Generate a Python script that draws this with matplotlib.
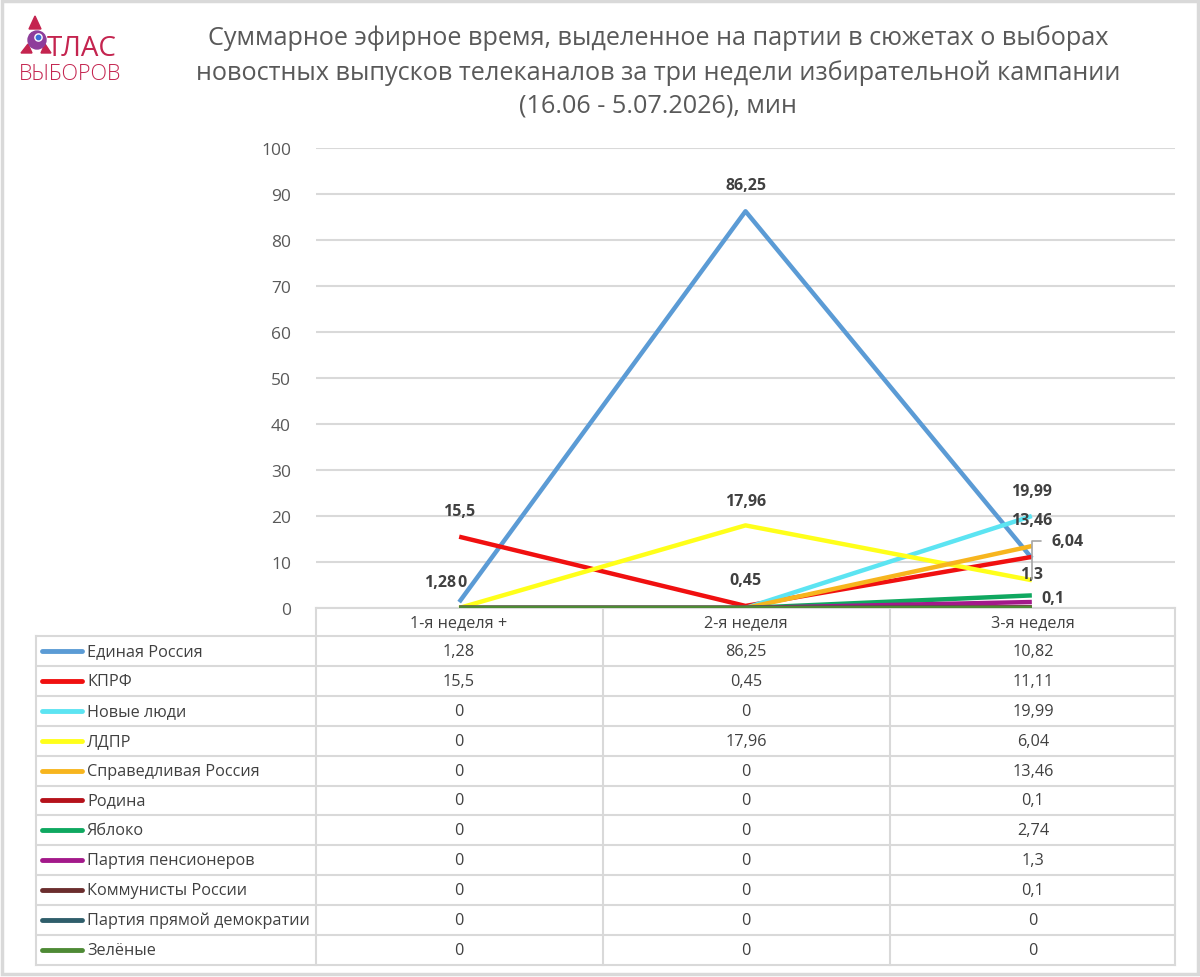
import matplotlib
matplotlib.use("Agg")
import matplotlib.pyplot as plt
from matplotlib.patches import Rectangle, Polygon, Circle

plt.rcParams['font.family'] = ['Open Sans', 'DejaVu Sans']

weeks = ["1-я неделя +", "2-я неделя", "3-я неделя"]
parties = ["Единая Россия", "КПРФ", "Новые люди", "ЛДПР", "Справедливая Россия",
           "Родина", "Яблоко", "Партия пенсионеров", "Коммунисты России",
           "Партия прямой демократии", "Зелёные"]
values = [
    [1.28, 86.25, 10.82],
    [15.5, 0.45, 11.11],
    [0, 0, 19.99],
    [0, 17.96, 6.04],
    [0, 0, 13.46],
    [0, 0, 0.1],
    [0, 0, 2.74],
    [0, 0, 1.3],
    [0, 0, 0.1],
    [0, 0, 0],
    [0, 0, 0],
]
colors = ["#5B9BD5", "#F01010", "#5CE4F2", "#FFFF1A", "#F7B51E", "#B5121B",
          "#0FA860", "#A3198A", "#6B2E2E", "#2F5E6B", "#4E8A35"]

title = ("Суммарное эфирное время, выделенное на партии в сюжетах о выборах\n"
         "новостных выпусков телеканалов за три недели избирательной кампании\n"
         "(16.06 - 5.07.2026), мин")

# data labels: (series, week, dx px, dy px)
labels = [
    (0, 0, -19, 20), (3, 0, 3, 26), (1, 0, 0, 26),
    (0, 1, 0, 26), (3, 1, 0, 24), (1, 1, 0, 26),
    (2, 2, 0, 25), (4, 2, 0, 26), (7, 2, 0, 28), (5, 2, 21, 10),
]

def fmt(v):
    return ("%g" % v).replace(".", ",")

W, H = 1200, 978
fig = plt.figure(figsize=(12, 9.78), dpi=100)

# background / frame / table layer in pixel coordinates
bg = fig.add_axes([0, 0, 1, 1])
bg.set_xlim(0, W)
bg.set_ylim(H, 0)
bg.axis("off")
bg.add_patch(Rectangle((2, 2), W - 4, H - 5, fill=False, ec="#D9D9D9", lw=2.5))

ax = fig.add_axes([316 / W, 1 - 609 / H, (1175 - 316) / W, (609 - 149) / H])
ax.set_xlim(-0.5, 2.5)
ax.set_ylim(0, 100)
ax.set_yticks(range(0, 101, 10))
ax.set_xticks([])
ax.grid(axis="y", color="#D9D9D9", lw=1.5)
ax.set_axisbelow(True)
for s in ax.spines.values():
    s.set_visible(False)
ax.tick_params(axis="y", length=0, pad=18, labelsize=12.5, labelcolor="#595959")
ax.patch.set_alpha(0)

x = list(range(len(weeks)))
for i, (vals, c) in enumerate(zip(values, colors)):
    ax.plot(x, vals, color=c, lw=3.2, solid_capstyle="butt", zorder=3 + i * 0.01)

pt = 0.72
for si, wi, dx, dy in labels:
    ax.annotate(fmt(values[si][wi]), (wi, values[si][wi]), xytext=(dx * pt, dy * pt),
                textcoords="offset points", ha="center", va="center",
                fontsize=11.5, fontweight="bold", color="#404040", zorder=10)
# label with leader line (ЛДПР, 3-я неделя)
ax.annotate(fmt(values[3][2]), (2, values[3][2] + 0.3), xytext=(20 * pt, 38 * pt),
            textcoords="offset points", ha="left", va="center",
            fontsize=11.5, fontweight="bold", color="#404040", zorder=10,
            arrowprops=dict(arrowstyle="-", color="#A6A6A6", lw=1.2,
                            connectionstyle="angle,angleA=0,angleB=90,rad=0",
                            relpos=(0, 0.5), shrinkA=6, shrinkB=0))

# data table
grid_c = "#D9D9D9"
txt_c = "#404040"
col_edges = [316, 603, 890, 1175]
col_cent = [459, 746, 1033]
top, hdr_bot = 609, 637
row_h = 29.9
n = len(parties)
bottom = hdr_bot + n * row_h
bg.plot([316, 1175], [top, top], color=grid_c, lw=1.5)
for k in range(n + 1):
    yk = hdr_bot + k * row_h
    bg.plot([36, 1175], [yk, yk], color=grid_c, lw=1.5)
bg.plot([36, 36], [hdr_bot, bottom], color=grid_c, lw=1.5)
for xe in col_edges:
    bg.plot([xe, xe], [top, bottom], color=grid_c, lw=1.5)
for j, w in enumerate(weeks):
    bg.text(col_cent[j], (top + hdr_bot) / 2, w, ha="center", va="center",
            fontsize=11.7, color=txt_c)
for i, p in enumerate(parties):
    yc = hdr_bot + (i + 0.5) * row_h
    bg.plot([42, 82], [yc, yc], color=colors[i], lw=3.5, solid_capstyle="round")
    bg.text(87, yc, p, ha="left", va="center", fontsize=11.7, color=txt_c)
    for j in range(len(weeks)):
        bg.text(col_cent[j], yc, fmt(values[i][j]), ha="center", va="center",
                fontsize=11.7, color=txt_c)

# title
fig.text(658 / W, 1 - 72 / H, title, ha="center", va="center", fontsize=18.2,
         color="#595959", linespacing=1.42)

# logo
crim = "#C4244F"
bg.add_patch(Polygon([[35, 17], [29, 30], [41, 30]], closed=True, color=crim))
bg.add_patch(Polygon([[21, 54], [28, 45], [32, 54]], closed=True, color=crim))
bg.add_patch(Polygon([[41, 54], [45, 45], [51, 54]], closed=True, color=crim))
bg.add_patch(Circle((37, 41), 9, color="#8E3D9B"))
bg.add_patch(Circle((38.5, 38.5), 3.6, color="white"))
bg.add_patch(Circle((38.5, 38.5), 2.2, color="#3B6FD8"))
bg.text(47, 56, "ТЛАС", ha="left", va="baseline", fontsize=20, color=crim)
bg.text(19, 80, "ВЫБОРОВ", ha="left", va="baseline", fontsize=15.5, color=crim,
        fontweight="light")

fig.savefig("out.png", dpi=100)
